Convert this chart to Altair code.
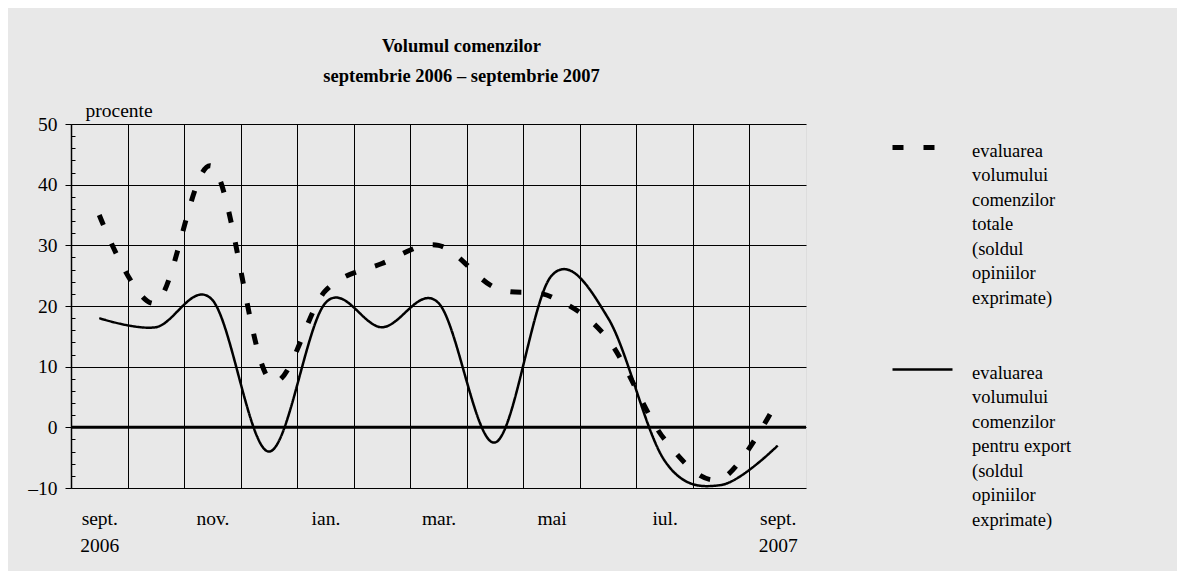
import json
import altair as alt
import pandas as pd

# ---------------- data ----------------
months = ["sept. 2006", "oct. 2006", "nov. 2006", "dec. 2006", "ian. 2007", "feb. 2007",
          "mar. 2007", "apr. 2007", "mai 2007", "iun. 2007", "iul. 2007", "aug. 2007", "sept. 2007"]
tick_labels = ["sept.|2006", "", "nov.", "", "ian.", "", "mar.", "", "mai", "", "iul.", "", "sept.|2007"]
totale = [35, 20.5, 43, 8, 22.5, 27, 30, 23, 21.5, 14.5, -2, -8.5, 4.5]
export = [18, 16.5, 21, -4, 20.5, 16.5, 20.5, -2.5, 25, 18, -5.5, -9.5, -3]
series_names = [
    "evaluarea|volumului|comenzilor|totale|(soldul|opiniilor|exprimate)",
    "evaluarea|volumului|comenzilor|pentru export|(soldul|opiniilor|exprimate)",
]
y_ticks = [-10, 0, 10, 20, 30, 40, 50]
y_minor = list(range(-10, 51, 2))
title_lines = ["Volumul comenzilor", "septembrie 2006 – septembrie 2007"]

rows = []
for name, vals in zip(series_names, [totale, export]):
    for i, (m, v) in enumerate(zip(months, vals)):
        rows.append({"idx": i, "luna": m, "serie": name, "value": v})
df = pd.DataFrame(rows)
zero_df = pd.DataFrame({"v": [0]})

FONT = "Liberation Serif"
W, H = 735, 364

label_expr = "split(" + json.dumps(tick_labels) + "[datum.value], '|')"

xscale = alt.Scale(domain=[-0.5, 12.5], nice=False, zero=False)
yscale = alt.Scale(domain=[-10, 50], nice=False, zero=False)

legend = alt.Legend(
    title=None, orient="none", legendX=819, legendY=-15,
    symbolType="M-1,0.2L1,0.2", symbolSize=3600, symbolStrokeColor="black",
    symbolFillColor="transparent",
    labelFont=FONT, labelFontSize=18.5, labelColor="black",
    labelExpr="split(datum.label, '|')", labelBaseline="top",
    labelOffset=17, rowPadding=25, labelLimit=300,
)

# guide layer: vertical gridlines between months + inner minor ticks on y axis
guides = alt.Chart(df).mark_point(opacity=0).encode(
    x=alt.X("idx:Q", scale=xscale,
            axis=alt.Axis(orient="bottom", values=[i + 0.5 for i in range(12)], grid=True,
                          gridColor="black", gridWidth=1, gridOpacity=1,
                          labels=False, ticks=False, domain=False, title=None)),
    y=alt.Y("value:Q", scale=yscale,
            axis=alt.Axis(orient="right", offset=-W, values=y_minor, labels=False, grid=False,
                          tickSize=4, tickColor="black", domain=False, title=None)),
)

zero_rule = alt.Chart(zero_df).mark_rule(color="black", strokeWidth=3).encode(
    y=alt.Y("v:Q", scale=yscale, axis=None)
)

lines = alt.Chart(df).mark_line(interpolate="cardinal", color="black", strokeCap="butt").encode(
    x=alt.X("idx:Q", scale=xscale,
            axis=alt.Axis(orient="bottom", values=list(range(13)), labelExpr=label_expr,
                          grid=False, ticks=False, domain=False, title=None,
                          labelFont=FONT, labelFontSize=19.5, labelColor="black",
                          labelPadding=21, labelLineHeight=27, labelBaseline="top")),
    y=alt.Y("value:Q", scale=yscale,
            axis=alt.Axis(orient="left", values=y_ticks, grid=True, gridColor="black",
                          gridWidth=1, gridOpacity=1, tickSize=6, tickColor="black",
                          domain=True, domainColor="black", domainWidth=1.5,
                          labelExpr="datum.value < 0 ? '–' + abs(datum.value) : datum.label",
                          labelFont=FONT, labelFontSize=19.5, labelColor="black", labelPadding=8,
                          title="procente", titleAngle=0, titleX=14, titleY=-8,
                          titleAlign="left", titleBaseline="alphabetic", titleFont=FONT,
                          titleFontSize=19.5, titleFontWeight="normal", titleColor="black")),
    strokeDash=alt.StrokeDash("serie:N", scale=alt.Scale(domain=series_names, range=[[11, 20], [1, 0]]),
                              legend=legend),
    strokeWidth=alt.StrokeWidth("serie:N", scale=alt.Scale(domain=series_names, range=[5, 2.5]),
                                legend=legend),
    detail="serie:N",
    order="idx:Q",
)

chart = alt.layer(guides, zero_rule, lines).resolve_axis(x="independent", y="independent").properties(
    width=W, height=H,
    autosize=alt.AutoSizeParams(type="none"),
    padding={"left": 63, "top": 116, "right": 371, "bottom": 83},
    title=alt.Title(text=title_lines, font=FONT, fontSize=18.5, fontWeight="bold", color="black",
                    anchor="middle", frame="group", dx=23, offset=15, lineHeight=30),
    background="#e8e8e8",
).configure_view(fill="white", stroke="black", strokeWidth=1.5
).configure_legend(labelFont=FONT
).configure(style={"guide-label": {"lineHeight": 24.5}})

chart.save("out.html", embed_options={"renderer": "svg", "actions": False})
